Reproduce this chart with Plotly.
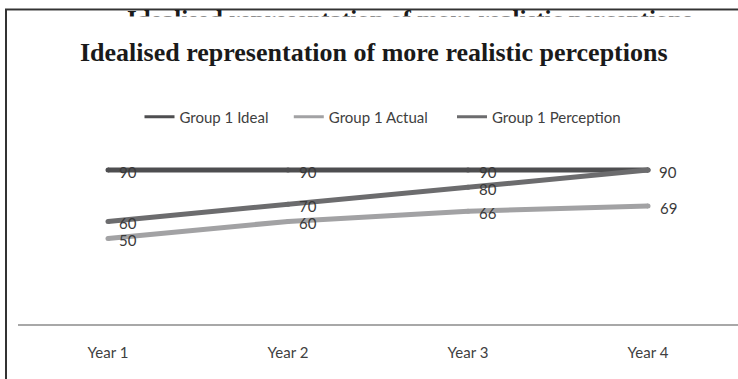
import plotly.graph_objects as go

# ---- data ----
years = ["Year 1", "Year 2", "Year 3", "Year 4"]
ideal = [90, 90, 90, 90]
actual = [50, 60, 66, 69]
perception = [60, 70, 80, 90]
series_names = ["Group 1 Ideal", "Group 1 Actual", "Group 1 Perception"]
series_colors = ["#4e4e50", "#a2a2a4", "#6c6c6e"]
title_text = "Idealised representation of more realistic perceptions"

W, H = 738, 379
L, R, T, B = 18, 0, 153, 55
PW, PH = W - L - R, H - T - B


def px2x(px):
    return (px - L) / PW


def py2y(py):
    return (H - B - py) / PH


fig = go.Figure()
for name, vals, col in zip(series_names, [ideal, actual, perception], series_colors):
    fig.add_trace(go.Scatter(
        x=years, y=vals, name=name, mode="lines+markers",
        line=dict(color=col, width=5),
        marker=dict(color=col, size=5, symbol="circle", line=dict(width=0)),
        showlegend=False, hoverinfo="skip",
    ))
# legend entries with thinner sample lines (extra spacing after the first two)
pads = ["\u00a0" * 4, "\u00a0" * 5, ""]
for name, col, pad in zip(series_names, series_colors, pads):
    fig.add_trace(go.Scatter(
        x=[None], y=[None], name=name + pad, mode="lines",
        line=dict(color=col, width=3), showlegend=True, hoverinfo="skip",
    ))

annotations = []
# data labels (one label per distinct position)
seen = set()
for vals in [ideal, actual, perception]:
    for yr, v in zip(years, vals):
        if (yr, v) in seen:
            continue
        seen.add((yr, v))
        annotations.append(dict(
            x=yr, y=v, xref="x", yref="y", text=str(v), showarrow=False,
            xanchor="center", yanchor="middle", xshift=20, yshift=-1.5,
            font=dict(family="Lato", size=15, color="#3a3a3a"),
        ))

# partially hidden duplicate title at the very top (cropped in the reference)
annotations.append(dict(
    x=px2x(410), y=py2y(35), xref="paper", yref="paper", text="<b>" + title_text + "</b>",
    showarrow=False, xanchor="center", yanchor="bottom",
    font=dict(family="Liberation Serif", size=25, color="#1a1a1a"),
))
# white cover hiding the lower part of that cropped text
annotations.append(dict(
    x=px2x(372), y=py2y(28), xref="paper", yref="paper", text=" ",
    showarrow=False, xanchor="center", yanchor="middle",
    width=720, height=22, bgcolor="white", borderpad=0,
))
# white cover above the frame
annotations.append(dict(
    x=px2x(372), y=py2y(0), xref="paper", yref="paper", text=" ",
    showarrow=False, xanchor="center", yanchor="middle",
    width=740, height=16, bgcolor="white", borderpad=0,
))

# main title
annotations.append(dict(
    x=px2x(374), y=py2y(52), xref="paper", yref="paper", text="<b>" + title_text + "</b>",
    showarrow=False, xanchor="center", yanchor="middle",
    font=dict(family="Liberation Serif", size=26, color="#1a1a1a"),
))

shapes = [
    dict(type="line", xref="paper", yref="paper", x0=px2x(6), x1=px2x(740), y0=py2y(9), y1=py2y(9),
         line=dict(color="#333333", width=2)),
    dict(type="line", xref="paper", yref="paper", x0=px2x(7), x1=px2x(740), y0=py2y(10.5), y1=py2y(10.5),
         line=dict(color="#a0a0a0", width=1)),
    dict(type="line", xref="paper", yref="paper", x0=px2x(6), x1=px2x(6), y0=py2y(8), y1=py2y(380),
         line=dict(color="#333333", width=2)),
]

fig.update_layout(
    width=W, height=H,
    margin=dict(l=L, r=R, t=T, b=B, pad=0),
    paper_bgcolor="white", plot_bgcolor="white",
    showlegend=True,
    legend=dict(
        orientation="h", x=px2x(383), y=py2y(117), xanchor="center", yanchor="middle",
        font=dict(family="Lato", size=15, color="#404040"),
        bgcolor="rgba(0,0,0,0)", itemwidth=30,
    ),
    xaxis=dict(
        type="category", range=[-0.5, 3.5], showgrid=False, zeroline=False,
        showline=True, linecolor="#a8a8a8", linewidth=1.5,
        ticks="", ticklabelstandoff=14,
        tickfont=dict(family="Lato", size=15, color="#404040"),
        fixedrange=True,
    ),
    yaxis=dict(
        range=[0, 100], showgrid=False, zeroline=False, showline=False,
        showticklabels=False, ticks="", fixedrange=True,
    ),
    annotations=annotations,
    shapes=shapes,
)

fig.write_html("out.html", config={"displayModeBar": False})
